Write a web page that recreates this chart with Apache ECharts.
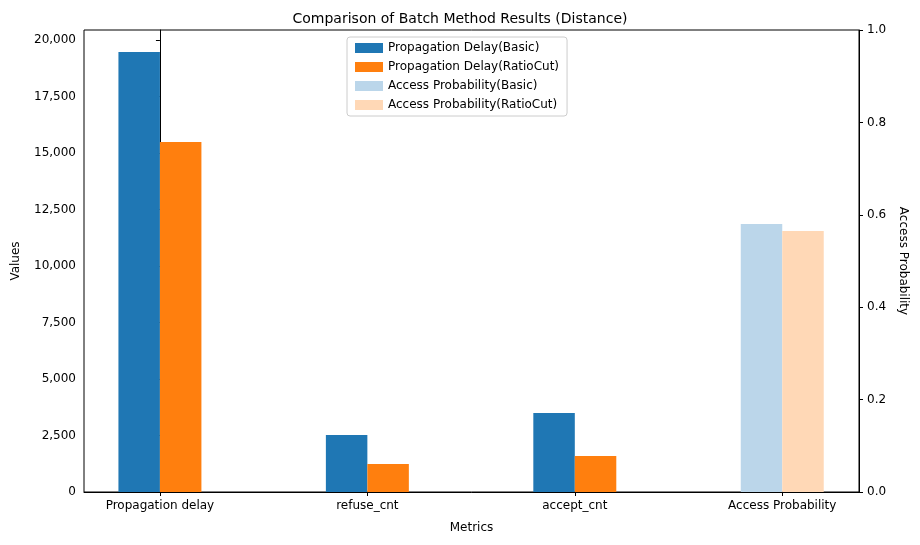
<!DOCTYPE html>
<html><head><meta charset="utf-8">
<script src="https://cdn.jsdelivr.net/npm/echarts@6/dist/echarts.min.js"></script>
<style>html,body{margin:0;background:#fff}#c{width:920px;height:545px}</style>
</head><body><div id="c"></div>
<script>
var categories = ['Propagation delay', 'refuse_cnt', 'accept_cnt', 'Access Probability'];
var delayBasic = [19470, 2520, 3500, null];
var delayRatio = [15490, 1240, 1590, null];
var probBasic = [null, null, null, 0.580];
var probRatio = [null, null, null, 0.565];
var leftTicks = [0, 2500, 5000, 7500, 10000, 12500, 15000, 17500, 20000];
var rightTicks = [0, 0.2, 0.4, 0.6, 0.8, 1.0];

var BW = 0.2;
function barSeries(name, values, offset, color, yIdx) {
  var data = [];
  values.forEach(function (v, i) { if (v != null) data.push([i + offset, v]); });
  return {
    name: name, type: 'custom', yAxisIndex: yIdx, data: data,
    itemStyle: { color: color },
    encode: { x: 0, y: 1 },
    renderItem: function (params, api) {
      var x = api.value(0), y = api.value(1);
      var p0 = api.coord([x - BW / 2, y]);
      var p1 = api.coord([x + BW / 2, 0]);
      return { type: 'rect', shape: { x: p0[0], y: p0[1], width: p1[0] - p0[0], height: p1[1] - p0[1] },
        style: { fill: color } };
    }
  };
}

var font = 'DejaVu Sans';
var chart = echarts.init(document.getElementById('c'));
chart.setOption({
  animation: false,
  textStyle: { fontFamily: font },
  title: { text: 'Comparison of Batch Method Results (Distance)', left: 'center', top: 7,
    textStyle: { fontSize: 14, fontWeight: 'normal', color: '#000', fontFamily: font } },
  grid: { left: 84, right: 61, top: 30, bottom: 53, show: true, borderColor: '#000', borderWidth: 1 },
  legend: {
    orient: 'vertical', left: 347, top: 37, itemWidth: 28, itemHeight: 10, itemGap: 7,
    padding: [5, 8], borderColor: '#ccc', borderWidth: 1, borderRadius: 3,
    textStyle: { fontSize: 12, color: '#000' },
    data: [
      { name: 'Propagation Delay(Basic)', icon: 'rect' },
      { name: 'Propagation Delay(RatioCut)', icon: 'rect' },
      { name: 'Access Probability(Basic)', icon: 'rect' },
      { name: 'Access Probability(RatioCut)', icon: 'rect' }
    ]
  },
  xAxis: {
    type: 'value', min: -0.366, max: 3.37,
    name: 'Metrics', nameLocation: 'middle', nameGap: 30, nameTextStyle: { color: '#000', fontSize: 12 },
    axisLine: { lineStyle: { color: '#000' } },
    splitLine: { show: false },
    axisTick: { show: true, length: 4, lineStyle: { color: '#000' }, customValues: [0, 1, 2, 3] },
    axisLabel: { color: '#000', fontSize: 12, customValues: [0, 1, 2, 3],
      formatter: function (v) { return categories[Math.round(v)]; } }
  },
  yAxis: [{
    type: 'value', min: 0, max: 20440,
    name: 'Values', nameLocation: 'middle', nameGap: 62, nameTextStyle: { color: '#000', fontSize: 12 },
    axisLine: { show: true, lineStyle: { color: '#000' } }, splitLine: { show: false },
    axisTick: { show: true, length: 4, lineStyle: { color: '#000' }, customValues: leftTicks },
    axisLabel: { color: '#000', fontSize: 12, customValues: leftTicks }
  }, {
    type: 'value', min: 0, max: 1, position: 'right',
    name: 'Access Probability', nameLocation: 'middle', nameGap: 36, nameRotate: -90,
    nameTextStyle: { color: '#000', fontSize: 12 },
    axisLine: { show: true, lineStyle: { color: '#000' } }, splitLine: { show: false },
    axisTick: { show: true, length: 4, lineStyle: { color: '#000' }, customValues: rightTicks },
    axisLabel: { color: '#000', fontSize: 12, customValues: rightTicks,
      formatter: function (v) { return v.toFixed(1); } }
  }],
  series: [
    barSeries('Propagation Delay(Basic)', delayBasic, -0.1, '#1f77b4', 0),
    barSeries('Propagation Delay(RatioCut)', delayRatio, 0.1, '#ff7f0e', 0),
    barSeries('Access Probability(Basic)', probBasic, -0.1, '#bbd6ea', 1),
    barSeries('Access Probability(RatioCut)', probRatio, 0.1, '#ffd8b6', 1)
  ]
});
</script></body></html>
